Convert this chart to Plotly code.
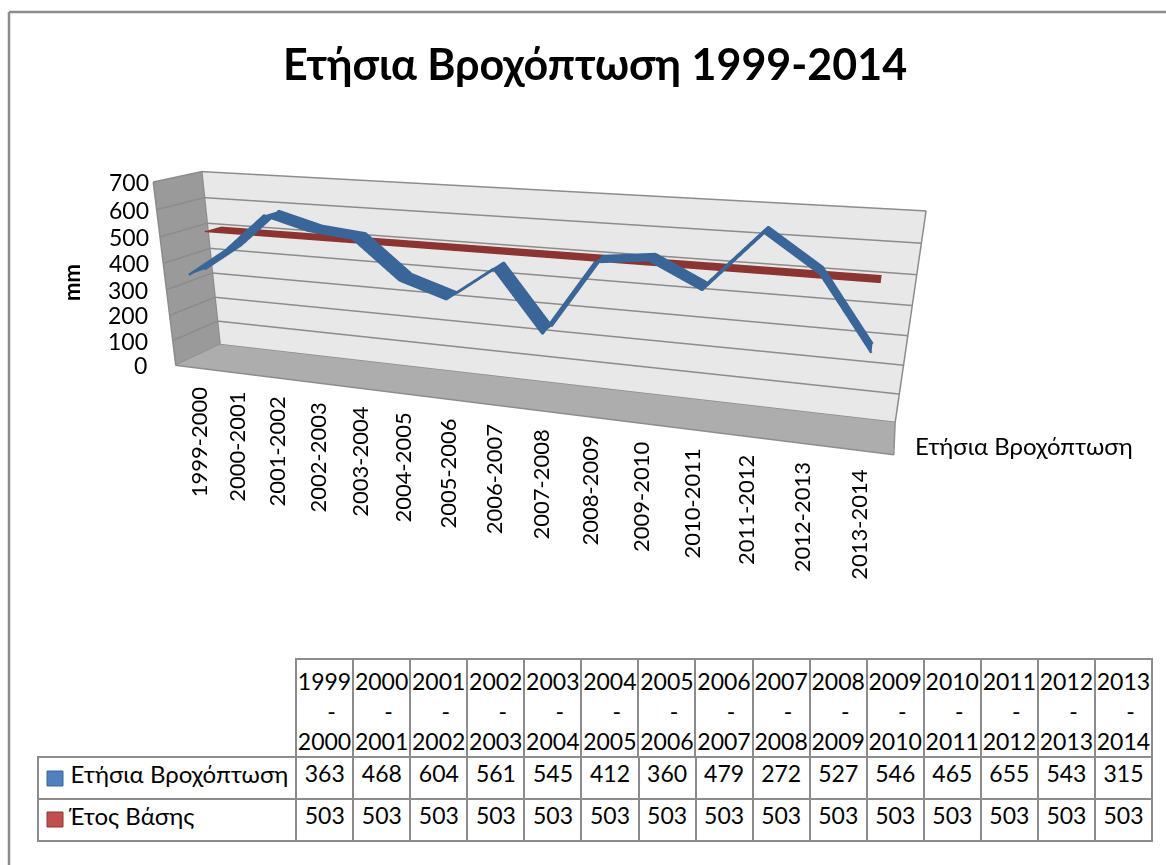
# Ετήσια Βροχόπτωση 1999-2014 : 3D line chart with data table
import plotly.graph_objects as go

W = 1166
H = 865

etos = ['1999-2000', '2000-2001', '2001-2002', '2002-2003', '2003-2004',
        '2004-2005', '2005-2006', '2006-2007', '2007-2008', '2008-2009',
        '2009-2010', '2010-2011', '2011-2012', '2012-2013', '2013-2014']
vroxi = [363, 468, 604, 561, 545, 412, 360, 479, 272, 527, 546, 465, 655, 543, 315]
vasi = [503] * 15
z_ticks = [0, 100, 200, 300, 400, 500, 600, 700]

FONT = 'Lato, "Noto Sans", sans-serif'
GRAY = '#8c8c8c'
XMIN, XMAX = -0.6, 14.6
ZMAX = z_ticks[-1]


def px(x):
    return x / W


def py(y):
    return 1 - y / H


def ribbon(values, y0, y1, color):
    # κορδέλα με βάθος, όπως η τρισδιάστατη γραμμή του Excel
    n = len(values)
    return go.Surface(x=list(range(n)), y=[y0, y1], z=[values, values],
                      surfacecolor=[[0] * n, [0] * n],
                      colorscale=[[0, color], [1, color]], showscale=False, cmin=0, cmax=1,
                      lighting=dict(ambient=1, diffuse=0, specular=0, fresnel=0),
                      hoverinfo='skip')


def edge(values, y0, color, width=5):
    return go.Scatter3d(x=list(range(len(values))), y=[y0] * len(values), z=values, mode='lines',
                        line=dict(color=color, width=width), hoverinfo='skip')


def wall(x, y, z, color):
    return go.Mesh3d(x=x, y=y, z=z, i=[0, 0], j=[1, 2], k=[2, 3], color=color, flatshading=True,
                     lighting=dict(ambient=1, diffuse=0, specular=0, fresnel=0),
                     hoverinfo='skip')


def row(name, values, top, bottom):
    # μία γραμμή του πίνακα με τον τίτλο της στην πρώτη στήλη
    # +3 στο κάτω όριο, αλλιώς κόβεται το κάτω περίγραμμα
    return go.Table(
        domain=dict(x=[px(38), px(1152)], y=[py(bottom + 3), py(top)]),
        columnwidth=[258] + [57] * 15,
        header=dict(values=[PAD + name.replace(' ', '\u00a0')] + [str(v) for v in values],
                    height=bottom - top, align=['left'] + ['center'] * 15, fill_color='white',
                    line=dict(color=GRAY, width=2),
                    font=dict(size=[24] + [23] * 15, color='black', family=FONT)),
    )


fig = go.Figure()
# τοίχοι και δάπεδο
fig.add_trace(wall([XMIN, XMAX, XMAX, XMIN], [1, 1, 1, 1], [0, 0, ZMAX, ZMAX], '#e8e8e8'))
fig.add_trace(wall([XMIN, XMIN, XMIN, XMIN], [0, 1, 1, 0], [0, 0, ZMAX, ZMAX], '#9a9a9a'))
fig.add_trace(wall([XMIN, XMAX, XMAX, XMIN], [0, 0, 1, 1], [0, 0, 0, 0], '#adadad'))

# γραμμές πλέγματος στους δύο τοίχους
gx, gy, gz = [], [], []
for t in z_ticks:
    gx += [XMIN + 0.01, XMIN + 0.01, XMAX, None]
    gy += [0, 0.99, 0.99, None]
    gz += [t, t, t, None]
# ακμές
gx += [XMIN, XMAX, XMAX, None, XMIN + 0.01, XMIN + 0.01, None, XMIN + 0.01, XMIN + 0.01, None, XMAX, XMAX]
gy += [0, 0, 1, None, 0, 0, None, 0.99, 0.99, None, 0.99, 0.99]
gz += [0, 0, 0, None, 0, ZMAX, None, 0, ZMAX, None, 0, ZMAX]
fig.add_trace(go.Scatter3d(x=gx, y=gy, z=gz, mode='lines', line=dict(color=GRAY, width=3),
                           hoverinfo='skip'))

# δύο σειρές
fig.add_trace(ribbon(vasi, 0.45, 0.8, '#8c3432'))
fig.add_trace(edge(vasi, 0.45, '#8c3432', 3))
fig.add_trace(ribbon(vroxi, 0.03, 0.36, '#3a6599'))
fig.add_trace(edge(vroxi, 0.03, '#3a6599'))
fig.add_trace(edge(vroxi, 0.36, '#3a6599'))

# ετικέτες αξόνων μέσα στη σκηνή
notes = []
for i, e in enumerate(etos):
    notes.append(dict(x=i, y=0, z=0, text=e, textangle=-90, showarrow=False,
                      xanchor='center', yanchor='top', yshift=-17,
                      font=dict(size=22, color='black', family=FONT)))
for t in z_ticks:
    notes.append(dict(x=XMIN, y=0, z=t, text=str(t), showarrow=False,
                      xanchor='right', xshift=-2 - 24 * (1 - t / ZMAX),
                      font=dict(size=23, color='black', family=FONT)))

hidden = dict(visible=False, showgrid=False, showbackground=False, showspikes=False)

fig.update_layout(
    width=W, height=H, margin=dict(l=0, r=0, t=0, b=0),
    paper_bgcolor='white', showlegend=False,
    font=dict(family=FONT, color='black'),
    title=dict(text='<b>Ετήσια Βροχόπτωση 1999-2014</b>', x=px(595), y=py(65),
               xanchor='center', yanchor='middle', font=dict(size=43)),
    scene=dict(
        domain=dict(x=[0, px(1016)], y=[0, 1]),
        # λίγο πιο πλατιά όρια, για να μην κόβονται οι τοίχοι πάνω στα όρια της σκηνής
        xaxis=dict(range=[XMIN - 0.02, XMAX + 0.02], **hidden),
        yaxis=dict(range=[-0.01, 1.01], **hidden),
        zaxis=dict(range=[-2, ZMAX + 2], **hidden),
        aspectmode='manual',
        aspectratio=dict(x=2.6, y=0.3, z=0.691),
        camera=dict(eye=dict(x=1.188, y=-3.29, z=0.884), up=dict(x=0, y=0, z=1),
                    center=dict(x=0, y=0, z=-0.5),
                    projection=dict(type='perspective')),
        annotations=notes,
    ),
    shapes=[
        dict(type='line', xref='paper', yref='paper', x0=px(9), y0=py(12), x1=px(1166), y1=py(12),
             line=dict(color=GRAY, width=2.5)),
        dict(type='line', xref='paper', yref='paper', x0=px(9), y0=py(12), x1=px(9), y1=py(865),
             line=dict(color=GRAY, width=2.5)),
        dict(type='rect', xref='paper', yref='paper', x0=px(47), y0=py(771), x1=px(63), y1=py(786),
             fillcolor='#4f81bd', line=dict(color='#3a6599', width=1), layer='above'),
        dict(type='rect', xref='paper', yref='paper', x0=px(47), y0=py(812), x1=px(63), y1=py(827),
             fillcolor='#c0504d', line=dict(color='#8c3432', width=1), layer='above'),
    ],
    annotations=[
        dict(xref='paper', yref='paper', x=px(71), y=py(283), text='<b>mm</b>', textangle=-90,
             xanchor='center', yanchor='middle', showarrow=False, font=dict(size=22)),
        dict(xref='paper', yref='paper', x=px(1024), y=py(445), text='Ετήσια Βροχόπτωση',
             xanchor='center', yanchor='middle', showarrow=False, font=dict(size=24)),
    ],
)

# πίνακας δεδομένων: η κεφαλίδα και από έναν πίνακα για κάθε σειρά
DASH = '\u00a0' * 5 + '-'
PAD = '\u00a0' * 4
fig.add_trace(go.Table(
    domain=dict(x=[px(296), px(1152)], y=[py(757), py(659)]),
    columnwidth=[1] * 15,
    header=dict(values=[e.replace('-', '<br>' + DASH + '<br>') for e in etos], height=98,
                align='center', fill_color='white', line=dict(color=GRAY, width=2),
                font=dict(size=23, color='black', family=FONT)),
))
fig.add_trace(row('Ετήσια Βροχόπτωση', vroxi, 757, 799))
fig.add_trace(row('Έτος Βάσης', vasi, 799, 841))

fig.write_html("out.html", config=dict(displayModeBar=False),
               post_script="document.body.style.margin='0';")
